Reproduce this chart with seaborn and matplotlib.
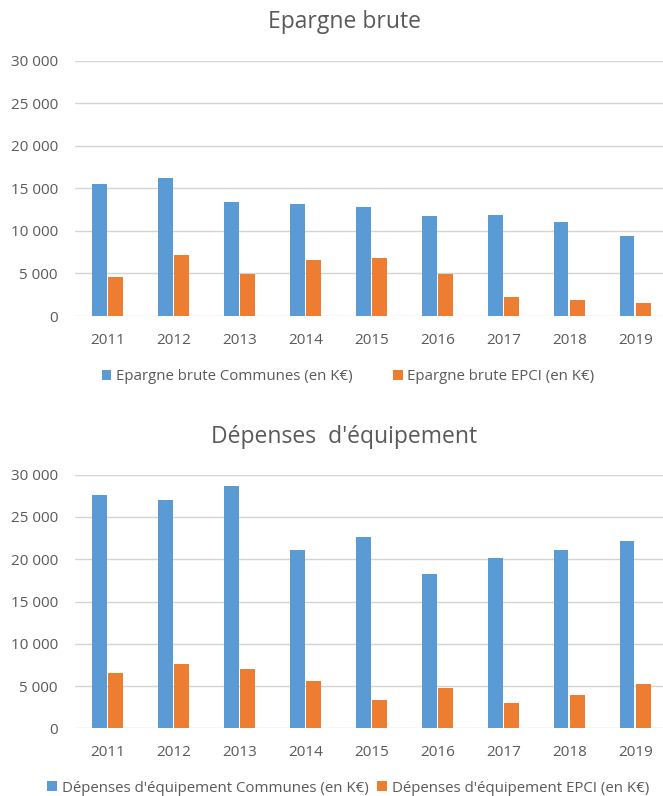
import pandas as pd
import seaborn as sns
import matplotlib.pyplot as plt
from matplotlib.ticker import FuncFormatter, MultipleLocator
from matplotlib.patches import Patch

# Values (en K€)
years = ["2011", "2012", "2013", "2014", "2015", "2016", "2017", "2018", "2019"]

epargne_communes = [15470, 16250, 13400, 13200, 12770, 11790, 11900, 11040, 9400]
epargne_epci = [4540, 7130, 4970, 6580, 6810, 4970, 2270, 1920, 1490]

depenses_communes = [27550, 27000, 28620, 21050, 22630, 18290, 20150, 21050, 22120]
depenses_epci = [6580, 7570, 7020, 5600, 3350, 4730, 3000, 3980, 5280]

series_epargne = ["Epargne brute Communes (en K€)", "Epargne brute EPCI (en K€)"]
series_depenses = ["Dépenses d'équipement Communes (en K€)", "Dépenses d'équipement EPCI (en K€)"]

colors = ["#5B9BD5", "#ED7D31"]
text_col = "#595959"
grid_col = "#D4D4D4"

sns.set_theme(style="white")
plt.rcParams['font.family'] = ['Open Sans', 'DejaVu Sans']


def long_frame(communes, epci, names):
    return pd.DataFrame({
        "Année": years * 2,
        "Valeur": communes + epci,
        "Série": [names[0]] * len(years) + [names[1]] * len(years),
    })


def draw(ax, df, names):
    sns.barplot(data=df, x="Année", y="Valeur", hue="Série", hue_order=names,
                palette=colors, width=0.5, gap=0.1, saturation=1,
                edgecolor="none", legend=False, ax=ax)
    ax.set_ylim(0, 30000)
    ax.set_xlim(-0.5, 8.42)
    ax.yaxis.set_major_locator(MultipleLocator(5000))
    ax.yaxis.set_major_formatter(FuncFormatter(lambda v, p: f"{int(v):,}".replace(",", " ")))
    ax.grid(axis="y", color=grid_col, linewidth=1.0)
    ax.set_axisbelow(True)
    for s in ax.spines.values():
        s.set_visible(False)
    ax.tick_params(axis="both", length=0, labelsize=11, labelcolor=text_col)
    ax.tick_params(axis="y", pad=12)
    ax.tick_params(axis="x", pad=12)
    ax.set_xlabel("")
    ax.set_ylabel("")


fig = plt.figure(figsize=(6.63, 7.96), dpi=100)
W, H = 663.0, 796.0
left = 74.5 / W
width = (W - 74.5) / W

ax1 = fig.add_axes([left, (H - 316) / H, width, 255.3 / H])
ax2 = fig.add_axes([left, (H - 728.3) / H, width, 253.6 / H])

draw(ax1, long_frame(epargne_communes, epargne_epci, series_epargne), series_epargne)
draw(ax2, long_frame(depenses_communes, depenses_epci, series_depenses), series_depenses)

fig.text(344 / W, 1 - 22 / H, "Epargne brute", ha="center", va="center",
         fontsize=16.5, color=text_col)
fig.text(344 / W, 1 - 437 / H, "Dépenses  d'équipement", ha="center", va="center",
         fontsize=16.5, color=text_col)

for names, ycen, spacing in [(series_epargne, 377, 2.7), (series_depenses, 788, 0.6)]:
    handles = [Patch(facecolor=c, edgecolor="none") for c in colors]
    fig.legend(handles, names, loc="center", bbox_to_anchor=(348 / W, 1 - ycen / H),
               ncol=2, frameon=False, fontsize=10.8, labelcolor=text_col,
               handlelength=0.65, handleheight=0.65, handletextpad=0.3,
               columnspacing=spacing, borderaxespad=0, borderpad=0)

fig.savefig("out.png", dpi=100)
